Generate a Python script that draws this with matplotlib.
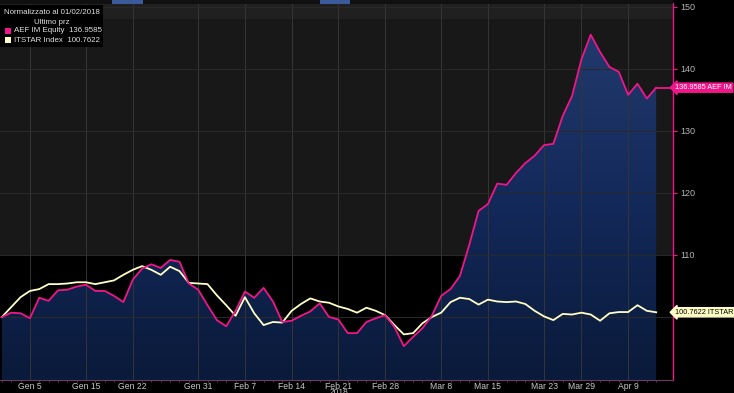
import numpy as np
import matplotlib.pyplot as plt
from matplotlib.patches import Rectangle
from matplotlib.colors import LinearSegmentedColormap

plt.rcParams['font.family'] = ['Liberation Sans Narrow', 'Liberation Sans', 'DejaVu Sans']

# trading-day index, Jan 2 2018 .. Apr 12 2018
aef = [100.0, 100.7, 100.6, 99.8, 103.1, 102.6, 104.3, 104.4, 104.9, 105.2,
       104.2, 104.2, 103.4, 102.4, 106.0, 107.8, 108.5, 107.9, 109.2, 108.9,
       105.4, 104.4, 101.9, 99.5, 98.5, 101.0, 104.1, 103.1, 104.7, 102.5,
       99.2, 99.4, 100.2, 100.9, 102.2, 100.0, 99.6, 97.4, 97.4, 99.2,
       99.8, 100.3, 98.4, 95.3, 96.8, 98.2, 100.2, 103.4, 104.5, 106.6,
       111.6, 117.1, 118.2, 121.5, 121.3, 123.2, 124.8, 126.0, 127.7, 127.9,
       132.4, 135.6, 141.5, 145.5, 142.7, 140.3, 139.5, 135.8, 137.6, 135.2,
       136.9585]
itstar = [100.0, 101.6, 103.2, 104.2, 104.5, 105.3, 105.3, 105.4, 105.6, 105.6,
          105.3, 105.6, 105.9, 106.8, 107.6, 108.2, 107.6, 106.8, 108.1, 107.4,
          105.5, 105.4, 105.3, 103.5, 101.9, 100.2, 103.2, 100.6, 98.7, 99.2,
          99.1, 101.0, 102.1, 103.0, 102.5, 102.3, 101.7, 101.3, 100.7, 101.5,
          101.0, 100.3, 98.7, 97.2, 97.4, 99.0, 100.0, 100.7, 102.4, 103.1,
          102.9, 102.0, 102.8, 102.5, 102.4, 102.5, 102.1, 101.0, 100.1, 99.5,
          100.5, 100.4, 100.7, 100.4, 99.4, 100.6, 100.8, 100.8, 101.9, 101.0,
          100.7622]
tick_pos = [3, 9, 14, 21, 26, 31, 36, 41, 47, 52, 58, 62, 67]
tick_lab = ['Gen 5', 'Gen 15', 'Gen 22', 'Gen 31', 'Feb 7', 'Feb 14', 'Feb 21',
            'Feb 28', 'Mar 8', 'Mar 15', 'Mar 23', 'Mar 29', 'Apr 9']
y_ticks = [100, 110, 120, 130, 140, 150]

PINK = '#f0168a'
YEL = '#ffffc6'

x = np.arange(len(aef))
xmin, xmax = -0.2, 71.8
ymin, ymax = 89.85, 150.6

fig = plt.figure(figsize=(7.34, 3.93), dpi=100, facecolor='black')
ax = fig.add_axes([0, 13/393, 673/734, 377/393])
ax.set_facecolor('black')
ax.set_xlim(xmin, xmax)
ax.set_ylim(ymin, ymax)

# background bands
ax.axhspan(110, 148, color='#181818', zorder=0, lw=0)
ax.axhspan(148, ymax, color='#202020', zorder=0, lw=0)

# gradient fill under AEF
poly = ax.fill_between(x, aef, ymin, color='none', lw=0)
cmap = LinearSegmentedColormap.from_list('bb', ['#0a1a3a', '#13295a', '#233a6e'])
im = ax.imshow(np.linspace(1, 0, 256).reshape(-1, 1), cmap=cmap,
               extent=[xmin, xmax, ymin, 147], aspect='auto', zorder=1,
               origin='upper', vmin=0, vmax=1)
im.set_clip_path(poly.get_paths()[0], transform=ax.transData)

# grid
for t in tick_pos:
    ax.axvline(t, color='#353535', lw=0.7, zorder=2)
for v in y_ticks:
    ax.axhline(v, color='#2a2a2a', lw=0.7, zorder=2)

ax.plot(x, itstar, color=YEL, lw=1.3, zorder=4)
ax.plot(x, aef, color=PINK, lw=1.3, zorder=5)
ax.plot([x[-1], xmax], [aef[-1], aef[-1]], color=PINK, lw=1.3, zorder=5)

# axes styling
for s in ['top', 'left']:
    ax.spines[s].set_visible(False)
ax.spines['right'].set_color(PINK)
ax.spines['right'].set_linewidth(1.0)
ax.spines['bottom'].set_color('#6a3a60')
ax.yaxis.tick_right()
ax.set_yticks(y_ticks)
ax.set_yticklabels(['' if v == 100 else str(v) for v in y_ticks])
ax.tick_params(axis='y', colors=PINK, labelcolor='#b4b4b4', labelsize=6.5,
               length=3, width=0.8, pad=2)
ax.set_xticks(tick_pos)
ax.set_xticklabels(tick_lab)
ax.set_xticks(x, minor=True)
ax.tick_params(axis='x', which='major', colors='#6a3a60', labelcolor='#c8c8c8',
               labelsize=6.2, length=0, pad=1.5)
ax.tick_params(axis='x', which='minor', colors='#6a3a60', length=1.5, width=0.6)

fig.text(339/734, 1 - 393/393, '2018', color='#c8c8c8', fontsize=6,
         ha='center', va='center')

# last value tags
ax.annotate('%.4f AEF IM' % aef[-1], xy=(xmax, aef[-1]), xycoords='data',
            xytext=(1.5, 0), textcoords='offset points', va='center', ha='left',
            fontsize=5.3, color='white', annotation_clip=False,
            bbox=dict(boxstyle='larrow,pad=0.15', fc=PINK, ec=PINK))
ax.annotate('%.4f ITSTAR' % itstar[-1], xy=(xmax, itstar[-1]), xycoords='data',
            xytext=(1.5, 0), textcoords='offset points', va='center', ha='left',
            fontsize=5.3, color='black', annotation_clip=False,
            bbox=dict(boxstyle='larrow,pad=0.15', fc=YEL, ec=YEL))

# top strip
fig.patches.append(Rectangle((0, 1 - 4/393), 673/734, 4/393, transform=fig.transFigure,
                             fc='#101010', ec='none', zorder=3))
fig.patches.append(Rectangle((112/734, 1 - 4/393), 31/734, 4/393, transform=fig.transFigure,
                             fc='#3a5a9a', ec='none', zorder=3))
fig.patches.append(Rectangle((320/734, 1 - 4/393), 30/734, 4/393, transform=fig.transFigure,
                             fc='#3a5a9a', ec='none', zorder=3))

# legend box
fig.patches.append(Rectangle((0, 1 - 47/393), 103/734, 42/393, transform=fig.transFigure,
                             fc='black', ec='none', zorder=6))
fig.text(52/734, 1 - 13/393, 'Normalizzato al 01/02/2018', color='#e0e0e0',
         fontsize=5.7, ha='center', va='center', zorder=7)
fig.text(52/734, 1 - 22/393, 'Ultimo prz', color='#e0e0e0', fontsize=5.7,
         ha='center', va='center', zorder=7)
fig.patches.append(Rectangle((5/734, 1 - 34/393), 6/734, 6/393, transform=fig.transFigure,
                             fc=PINK, ec='none', zorder=7))
fig.patches.append(Rectangle((5/734, 1 - 43/393), 6/734, 6/393, transform=fig.transFigure,
                             fc=YEL, ec='none', zorder=7))
fig.text(14/734, 1 - 31/393, 'AEF IM Equity  %.4f' % aef[-1], color='#e0e0e0',
         fontsize=5.7, ha='left', va='center', zorder=7)
fig.text(14/734, 1 - 40/393, 'ITSTAR Index  %.4f' % itstar[-1], color='#e0e0e0',
         fontsize=5.7, ha='left', va='center', zorder=7)

plt.savefig('out.png', dpi=100, facecolor='black')
